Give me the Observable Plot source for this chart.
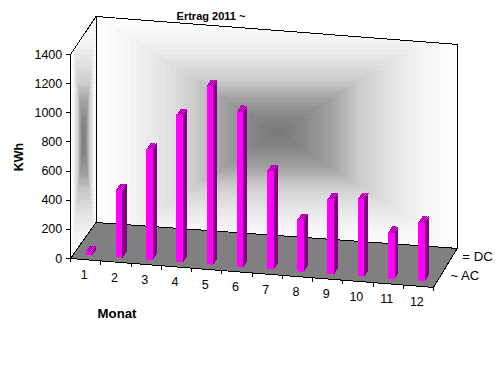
<!DOCTYPE html>
<html><head><meta charset="utf-8">
<style>html,body{margin:0;padding:0;background:#fff}svg{display:block}</style>
<script src="https://cdn.jsdelivr.net/npm/d3@7"></script>
<script src="https://cdn.jsdelivr.net/npm/@observablehq/plot@0.6"></script>
</head><body><div id="chart"></div>
<script>
const title = "Ertrag 2011 ~";
const yTitle = "KWh";
const xTitle = "Monat";
const months = [1,2,3,4,5,6,7,8,9,10,11,12];
const acValues = [27,466,760,1013,1228,1068,678,358,516,533,320,405];
const yTicks = [0,200,400,600,800,1000,1200,1400];
const depthLabels = [{label:"~ AC", d:0.25},{label:"= DC", d:0.75}];

// oblique projection: month position m, value v, depth d -> plot units (month, kWh)
const pxPerMonth = 30.2, pxPerKwh = 204/1400, originX = 70, originY = 258;
const W = 504, H = 370;
function project(m, v, d) {
  const px = m*(30.25 - 0.15*d) + 25.5*d;
  const py = m*(2.41 - 0.25*d) - 36*d - v*pxPerKwh*(1 + (2/204)*d*(1 - m/12));
  return [px/pxPerMonth, -py/pxPerKwh];
}
const nM = months.length, maxV = d3.max(yTicks);
const pt = (m,v,d) => { const [x,y] = project(m,v,d); return {x,y}; };
const xDomain = [-originX/pxPerMonth,(W-originX)/pxPerMonth];
const yDomain = [originY/pxPerKwh,(originY-H)/pxPerKwh];
const pixelOf = (x,y) => [Math.floor(originX + x*pxPerMonth), Math.floor(originY - y*pxPerKwh)];

// gradients on the walls (piecewise gray ramp, ordered dither, clipped to the walls)
const backPoly = [[0,0,1],[nM,0,1],[nM,maxV,1],[0,maxV,1]].map(a => project(...a));
const leftPoly = [[0,0,0],[0,0,1],[0,maxV,1],[0,maxV,0]].map(a => project(...a));
const box = p => { const [x0,x1]=d3.extent(p,q=>q[0]),[y0,y1]=d3.extent(p,q=>q[1]);
  return {cx:(x0+x1)/2,hx:(x1-x0)/2,cy:(y0+y1)/2,hy:(y1-y0)/2}; };
const backBox = box(backPoly), leftBox = box(leftPoly);
const ramp = d3.scaleLinear().domain([0,.15,.3,.45,.6,.8,1]).range([0x78,0x88,0xa2,0xcb,0xe0,0xf4,0xff]);
const bayer = [[0,8,2,10],[12,4,14,6],[3,11,1,9],[15,7,13,5]];
function wallFill(x, y) {
  const inBack = d3.polygonContains(backPoly,[x,y]);
  const inLeft = !inBack && d3.polygonContains(leftPoly,[x,y]);
  if (!inBack && !inLeft) return "#ffffff";
  const b = inBack ? backBox : leftBox;
  const t = Math.max(Math.abs(x-b.cx)/b.hx, Math.abs(y-b.cy)/b.hy);
  const [px,py] = pixelOf(x,y);
  const step = 12;
  const g = Math.min(255, Math.floor(ramp(t)/step + (bayer[py&3][px&3]+.5)/16)*step);
  return `rgb(${g},${g},${g})`;
}

// geometry rows built from the values
const poly = (id, corners) => corners.map(c => ({id, ...pt(...c)}));
const barHalf = 0.11, d0 = 0.13, d1 = 0.29;
const fronts = [], sides = [], topPolys = [];
months.forEach((mo,i) => {
  const v = acValues[i], c = mo - 0.5, a = c - barHalf, b = c + barHalf;
  fronts.push(...poly(mo,[[a,0,d0],[b,0,d0],[b,v,d0],[a,v,d0]]));
  sides.push(...poly(mo,[[b,0,d0],[b,0,d1],[b,v,d1],[b,v,d0]]));
  topPolys.push([[a,v,d0],[b,v,d0],[b,v,d1],[a,v,d1]].map(q => project(...q)));
});
const inTop = (x,y) => topPolys.some(p => d3.polygonContains(p,[x,y]));
const topFill = (x,y) => { const [px,py] = pixelOf(x,y); return (px+py)&1 ? "#ff00ff" : "#800080"; };
const topOpacity = (x,y) => inTop(x,y) ? 1 : 0;
const floorPoly = poly("floor",[[0,0,0],[nM,0,0],[nM,0,1],[0,0,1]]);
const edges = [
  [[0,0,0],[0,maxV,0]],[[0,maxV,0],[0,maxV,1]],[[0,0,1],[0,maxV,1]],
  [[0,maxV,1],[nM,maxV,1]],[[nM,0,1],[nM,maxV,1]]
].map(([a,b]) => { const p=pt(...a), q=pt(...b); return {x1:p.x,y1:p.y,x2:q.x,y2:q.y}; });
const yTickRows = yTicks.map(v => { const p=pt(0,v,0), q=pt(-0.14,v,0); return {v,x1:p.x,y1:p.y,x2:q.x,y2:p.y}; });
const xTickRows = d3.range(0,nM+1).map(m => { const p=pt(m,0,0); return {x1:p.x,y1:p.y,x2:p.x,y2:p.y-27}; });
const xLabelRows = months.map(m => ({m, ...pt(m-0.5,0,0)}));
const depthRows = depthLabels.map(l => ({...l, ...pt(nM,0,l.d)}));

const font = "'Liberation Sans', Arial, sans-serif";
const crisp = {shapeRendering:"crispEdges"};
const solid = (rows, fill, extra={}) => Plot.line(rows,{x:"x",y:"y",z:"id",fill,stroke:"none",curve:"linear-closed",...crisp,...extra});
const frame = {x1:xDomain[0], x2:xDomain[1], y1:yDomain[0], y2:yDomain[1], pixelSize:1, imageRendering:"pixelated"};

const chart = Plot.plot({
  width:W, height:H, margin:0, marginTop:0, marginRight:0, marginBottom:0, marginLeft:0,
  style:{background:"#fff", fontFamily:font},
  x:{domain:xDomain, range:[0,W], axis:null},
  y:{domain:yDomain, range:[0,H], axis:null},
  color:{type:"identity"},
  opacity:{type:"identity"},
  marks:[
    Plot.raster({...frame, fill:wallFill}),
    solid(floorPoly,"#808080",{stroke:"#000",strokeWidth:1}),
    Plot.link(edges,{x1:"x1",y1:"y1",x2:"x2",y2:"y2",stroke:"#000",strokeWidth:1,...crisp}),
    solid(sides,"#800080"),
    solid(fronts,"#ff00ff"),
    Plot.raster({...frame, fill:topFill, fillOpacity:topOpacity}),
    Plot.link(yTickRows,{x1:"x1",y1:"y1",x2:"x2",y2:"y2",stroke:"#000",...crisp}),
    Plot.link(xTickRows,{x1:"x1",y1:"y1",x2:"x2",y2:"y2",stroke:"#000",...crisp}),
    Plot.text(yTickRows,{x:"x2",y:"y1",text:d=>String(d.v),textAnchor:"end",dx:-4,fontSize:12.5,fill:"#000",fontFamily:font}),
    Plot.text(xLabelRows,{x:"x",y:"y",text:d=>String(d.m),dx:-1.5,dy:15.5,fontSize:12.5,fill:"#000",fontFamily:font}),
    Plot.text(depthRows,{x:"x",y:"y",text:"label",textAnchor:"start",dx:11,dy:-1.5,fontSize:13.2,fill:"#000",fontFamily:font}),
    Plot.text([title],{frameAnchor:"top-left",text:d=>d,dx:210.5,dy:15.5,fontSize:11,fontWeight:"bold",fill:"#000",fontFamily:font,lineAnchor:"middle",textAnchor:"middle"}),
    Plot.text([xTitle],{frameAnchor:"top-left",text:d=>d,dx:116.5,dy:313,fontSize:13.2,fontWeight:"bold",fill:"#000",fontFamily:font,lineAnchor:"middle",textAnchor:"middle"}),
    Plot.text([yTitle],{frameAnchor:"top-left",text:d=>d,dx:18,dy:156.5,fontSize:12.5,fontWeight:"bold",rotate:-90,fill:"#000",fontFamily:font,lineAnchor:"middle",textAnchor:"middle"})
  ]
});
document.getElementById("chart").appendChild(chart);
</script></body></html>
